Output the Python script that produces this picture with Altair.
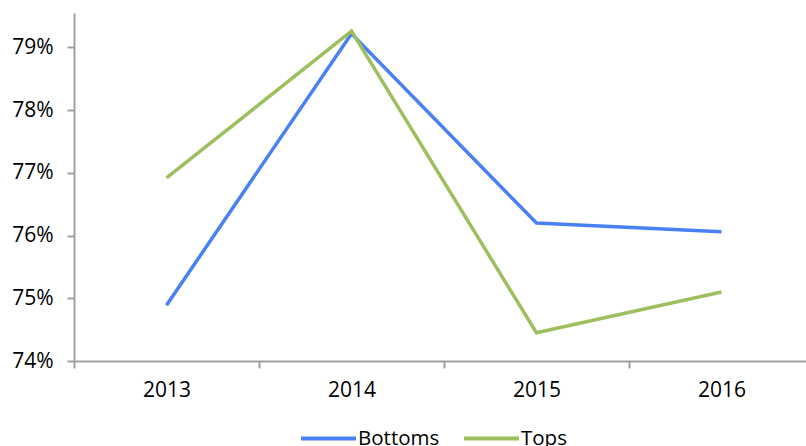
import altair as alt
import pandas as pd

years = [2013, 2014, 2015, 2016]
bottoms = [0.7489, 0.7922, 0.7620, 0.7606]
tops = [0.7692, 0.7926, 0.7445, 0.7510]
series_names = ["Bottoms", "Tops"]
series_colors = ["#4A80F5", "#9DBF5E"]
y_ticks = [0.74, 0.75, 0.76, 0.77, 0.78, 0.79]

df = pd.DataFrame(
    {
        "year": years * 2,
        "share": bottoms + tops,
        "group": [series_names[0]] * len(years) + [series_names[1]] * len(years),
    }
)

# x positions: labels at the years, tick marks halfway between them
x_values = []
for y in years:
    x_values += [y - 0.5, y]

font = "Open Sans"
axis_grey = "#A0A0A0"

chart = (
    alt.Chart(df)
    .mark_line(strokeWidth=3.5)
    .encode(
        x=alt.X(
            "year:Q",
            scale=alt.Scale(domain=[years[0] - 0.5, years[-1] + 0.457], nice=False, zero=False),
            axis=alt.Axis(
                title=None,
                grid=False,
                values=x_values,
                labelExpr="datum.value % 1 === 0 ? '' + datum.value : ''",
                tickOpacity={"condition": {"test": "datum.value % 1 === 0", "value": 0}, "value": 1},
                tickSize=7,
                tickWidth=2,
                tickColor=axis_grey,
                domainColor=axis_grey,
                domainWidth=2,
                labelFont=font,
                labelFontSize=21,
                labelColor="#000000",
                labelPadding=11,
                labelFlush=False,
                labelOverlap=False,
            ),
        ),
        y=alt.Y(
            "share:Q",
            scale=alt.Scale(domain=[0.74, 0.7955], nice=False, zero=False),
            axis=alt.Axis(
                title=None,
                grid=False,
                values=y_ticks,
                format=".0%",
                tickSize=7,
                tickWidth=2,
                tickColor=axis_grey,
                domainColor=axis_grey,
                domainWidth=2,
                labelFont=font,
                labelFontSize=21,
                labelColor="#000000",
                labelPadding=14,
                labelFlush=False,
                labelOverlap=False,
            ),
        ),
        color=alt.Color(
            "group:N",
            scale=alt.Scale(domain=series_names, range=series_colors),
            legend=alt.Legend(
                title=None,
                orient="none",
                direction="horizontal",
                legendX=225,
                legendY=396,
                symbolType="stroke",
                symbolSize=3025,
                symbolStrokeWidth=4,
                labelFont=font,
                labelFontSize=20.5,
                labelColor="#000000",
                labelOffset=0,
                columnPadding=16,
            ),
        ),
        order=alt.Order("group:N"),
    )
    .properties(
        width=732,
        height=348,
        background="#FFFFFF",
        autosize=alt.AutoSizeParams(type="none"),
        padding={"left": 74, "top": 13, "right": 0, "bottom": 85},
    )
    .configure_view(strokeWidth=0, strokeOpacity=0)
)

chart.save("out.html", embed_options={"renderer": "svg", "actions": False})
